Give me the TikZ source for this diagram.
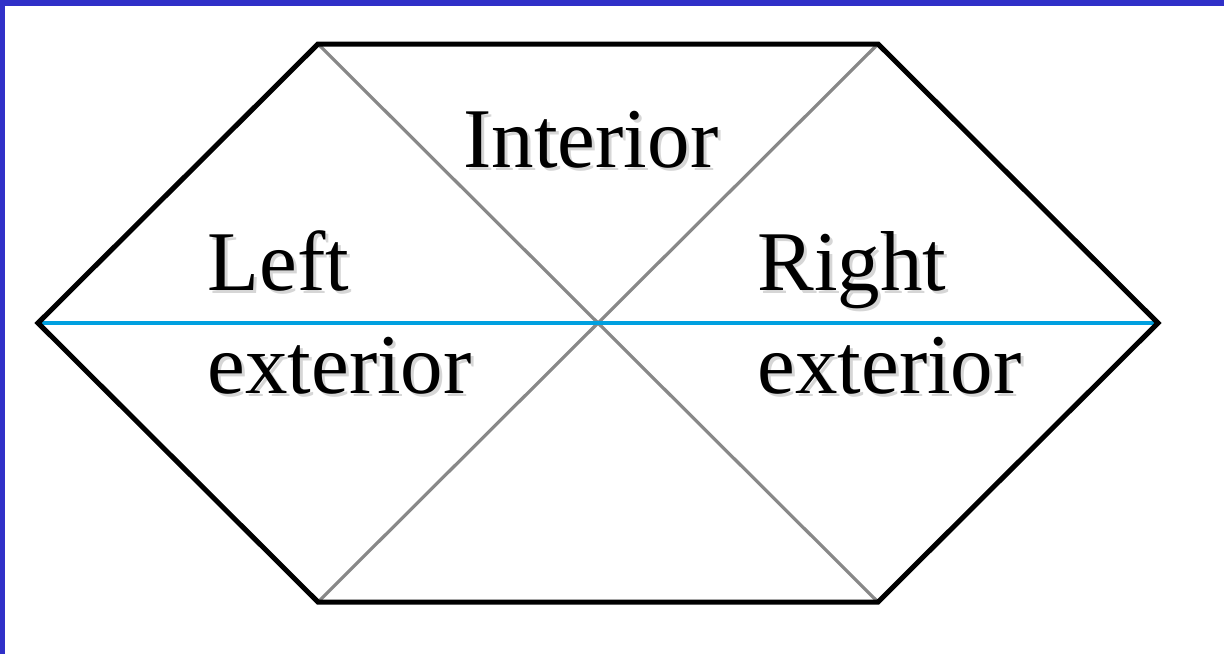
\documentclass[tikz,border=0pt]{standalone}
\usepackage{fontspec}
\setmainfont{Liberation Serif}
\definecolor{frameblue}{HTML}{3030C8}
\definecolor{lineblue}{HTML}{00A0E0}
\definecolor{diaggray}{HTML}{888888}
\tikzset{
  hexline/.style={line width=2.5pt, black, line join=miter},
  diagline/.style={line width=1.6pt, diaggray},
  axisline/.style={line width=1.6pt, lineblue},
  lbl/.style={anchor=base west, inner sep=0pt, font=\fontsize{42.5}{50}\selectfont},
  shadowlbl/.style={lbl, text=black!40, opacity=0.4},
}
\begin{document}
\begin{tikzpicture}[x=0.5pt,y=-0.5pt]
\useasboundingbox (0,0) rectangle (1224,654);
\fill[white] (0,0) rectangle (1224,654);
\fill[frameblue] (0,0) rectangle (1224,6);
\fill[frameblue] (0,0) rectangle (5,654);
% vertices
\coordinate (tl) at (318,44);
\coordinate (tr) at (878,44);
\coordinate (r) at (1158,323);
\coordinate (br) at (878,602);
\coordinate (bl) at (318,602);
\coordinate (l) at (38,323);
\coordinate (c) at (598,323);
% diagonals
\draw[diagline] (tl) -- (br);
\draw[diagline] (tr) -- (bl);
% horizontal
\draw[axisline] (l) -- (r);
% hexagon
\draw[hexline] (tl) -- (tr) -- (r) -- (br) -- (bl) -- (l) -- cycle;
% labels with shadows
\node[shadowlbl] at (466,170) {Interior};
\node[lbl] (interior) at (463,167) {Interior};
\node[shadowlbl] at (210,293) {Left};
\node[lbl] (left) at (207,290) {Left};
\node[shadowlbl] at (210,396) {exterior};
\node[lbl] (lext) at (207,393) {exterior};
\node[shadowlbl] at (760,293) {Right};
\node[lbl] (right) at (757,290) {Right};
\node[shadowlbl] at (760,396) {exterior};
\node[lbl] (rext) at (757,393) {exterior};
\end{tikzpicture}
\end{document}
